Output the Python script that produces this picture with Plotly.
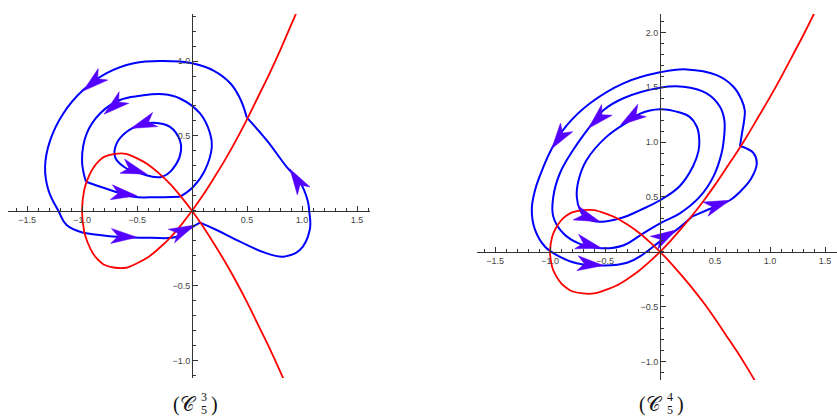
import math
import plotly.graph_objects as go

W, H = 837, 419

# ---------------- data ----------------
# red curve (identical in both panels)
red_x = [1.40, 1.30, 1.20, 1.10, 1.00, 0.90, 0.80, 0.70, 0.60, 0.50, 0.40, 0.30, 0.20, 0.10, 0.00,
         -0.10, -0.20, -0.30, -0.40, -0.50, -0.60, -0.70, -0.80, -0.85, -0.90, -0.95, -0.98, -1.00,
         -0.98, -0.95, -0.90, -0.85, -0.80, -0.70, -0.60, -0.50, -0.40, -0.30, -0.20, -0.10, 0.00,
         0.10, 0.20, 0.30, 0.40, 0.50, 0.60, 0.70, 0.80, 0.90]
red_y = [2.17, 1.97, 1.78, 1.59, 1.41, 1.24, 1.07, 0.91, 0.76, 0.61, 0.47, 0.34, 0.22, 0.105, 0.00,
         -0.095, -0.18, -0.25, -0.31, -0.35, -0.38, -0.38, -0.36, -0.33, -0.285, -0.21, -0.14, 0.00,
         0.14, 0.21, 0.285, 0.33, 0.36, 0.38, 0.38, 0.35, 0.31, 0.25, 0.18, 0.095, 0.00,
         -0.105, -0.22, -0.34, -0.47, -0.61, -0.76, -0.91, -1.07, -1.24]

# left panel (C_5^3) blue trajectories, split at the corners on the red curve
L_outer_a_x = [0.497, 0.44, 0.35, 0.20, 0.00, -0.26, -0.53, -0.78, -0.99, -1.17, -1.29, -1.336, -1.306, -1.215, -1.14, -0.99]
L_outer_a_y = [0.624, 0.745, 0.85, 0.935, 0.985, 1.00, 0.985, 0.918, 0.806, 0.65, 0.47, 0.294, 0.139, 0.00, -0.095, -0.146]
L_outer_b_x = [-0.99, -0.685, -0.38, -0.14, -0.018, 0.073]
L_outer_b_y = [-0.146, -0.173, -0.18, -0.173, -0.117, -0.079]
L_outer_c_x = [0.073, 0.224, 0.436, 0.68, 0.83, 0.98, 1.07, 1.065, 1.05, 0.98, 0.86, 0.68, 0.497]
L_outer_c_y = [-0.079, -0.128, -0.206, -0.284, -0.306, -0.262, -0.128, 0.00, 0.072, 0.194, 0.294, 0.47, 0.624]
L_mid_a_x = [-0.11, -0.38, -0.53, -0.745, -0.964]
L_mid_a_y = [0.094, 0.09, 0.094, 0.139, 0.194]
L_mid_b_x = [-0.964, -1.00, -0.957, -0.836, -0.655, -0.47, -0.26, -0.11, 0.073, 0.164, 0.18, 0.118, 0.012, -0.11]
L_mid_b_y = [0.194, 0.34, 0.517, 0.65, 0.74, 0.768, 0.778, 0.75, 0.65, 0.517, 0.428, 0.272, 0.161, 0.094]
L_in_x = [-0.27, -0.14, -0.10, -0.11, -0.20, -0.35, -0.47, -0.594, -0.685, -0.70, -0.62, -0.47, -0.27]
L_in_y = [0.228, 0.317, 0.405, 0.47, 0.56, 0.588, 0.573, 0.528, 0.45, 0.36, 0.294, 0.25, 0.228]

# right panel (C_5^4); outer trajectory split where it meets the red curve
R_outer_a_x = [0.727, 0.745, 0.765, 0.77, 0.742, 0.667, 0.515, 0.243, 0.00, -0.333, -0.636, -0.85, -0.985,
               -1.07, -1.136, -1.166, -1.136, -1.045, -0.91, -0.757, -0.515, -0.30, -0.15, 0.00, 0.15, 0.29]
R_outer_a_y = [0.964, 1.08, 1.20, 1.29, 1.384, 1.505, 1.61, 1.663, 1.636, 1.536, 1.354, 1.15, 0.94,
               0.75, 0.563, 0.381, 0.199, 0.046, -0.045, -0.105, -0.125, -0.10, -0.02, 0.095, 0.20, 0.32]
R_outer_b_x = [0.29, 0.45, 0.636, 0.73, 0.83, 0.88, 0.85, 0.79, 0.727]
R_outer_b_y = [0.32, 0.39, 0.47, 0.55, 0.67, 0.81, 0.90, 0.94, 0.964]
R_mid_x = [-0.97, -0.97, -0.88, -0.74, -0.53, -0.33, -0.18, 0.00, 0.18, 0.36, 0.485, 0.56, 0.585, 0.585,
           0.545, 0.424, 0.212, 0.00, -0.333, -0.515, -0.65, -0.79, -0.91, -0.97]
R_mid_y = [0.503, 0.32, 0.169, 0.077, 0.032, 0.06, 0.15, 0.26, 0.35, 0.50, 0.685, 0.90, 1.08, 1.20,
           1.323, 1.445, 1.505, 1.496, 1.40, 1.29, 1.126, 0.928, 0.716, 0.503]
R_in_x = [-0.757, -0.727, -0.667, -0.545, -0.36, -0.18, 0.00, 0.18, 0.30, 0.35, 0.357, 0.335, 0.27, 0.18,
          0.00, -0.18, -0.27, -0.485, -0.667, -0.74, -0.757]
R_in_y = [0.502, 0.381, 0.305, 0.274, 0.305, 0.38, 0.47, 0.60, 0.78, 0.92, 1.02, 1.14, 1.23, 1.27,
          1.30, 1.26, 1.20, 1.05, 0.837, 0.655, 0.502]

# arrowheads: tip position and screen direction (degrees)
L_arrow_x = [-0.99, -0.80, -0.557, -0.41, -0.50, -0.50, 0.027, 0.89]
L_arrow_y = [0.80, 0.645, 0.55, 0.245, 0.10, -0.177, -0.095, 0.28]
L_arrow_deg = [-140, -140, -160, -18, -8, -3, 25, 122]
R_arrow_x = [-0.985, -0.65, -0.36, -0.545, -0.53, -0.515, 0.15, 0.636]
R_arrow_y = [0.94, 1.126, 1.156, 0.274, 0.032, -0.125, 0.20, 0.47]
R_arrow_deg = [-125, -135, -146, -20, -15, -5, 30, 20]

# axes
x_ticks = [-1.5, -1.0, -0.5, 0.5, 1.0, 1.5]
x_ticktext = ["\u22121.5", "\u22121.0", "\u22120.5", "0.5", "1.0", "1.5"]
L_y_ticks = [-1.0, -0.5, 0.5, 1.0]
L_y_ticktext = ["\u22121.0", "\u22120.5", "0.5", "1.0"]
R_y_ticks = [-1.0, -0.5, 0.5, 1.0, 1.5, 2.0]
R_y_ticktext = ["\u22121.0", "\u22120.5", "0.5", "1.0", "1.5", "2.0"]

# ---------------- styling / layout ----------------
BLUE = "#0000ff"
RED = "#ff0000"
ARROW = "#5500ff"
AX = "#333333"

L_xdom = [8 / W, 370 / W]
L_ydom = [(H - 378) / H, (H - 14) / H]
L_xr = [-1.673, 1.618]
L_yr = [-1.116, 1.314]
R_xdom = [477 / W, 1.0]
R_ydom = [(H - 380) / H, (H - 14) / H]
R_xr = [-1.664, 1.609]
R_yr = [-1.169, 2.168]


def axis_pair(xdom, ydom, xr, yr, yt, ytt):
    xpos = ydom[0] + (0 - yr[0]) / (yr[1] - yr[0]) * (ydom[1] - ydom[0])
    ypos = xdom[0] + (0 - xr[0]) / (xr[1] - xr[0]) * (xdom[1] - xdom[0])
    common = dict(showline=True, linecolor=AX, linewidth=1, ticks="inside", ticklen=5,
                  tickwidth=1, tickcolor=AX, showgrid=False, zeroline=False, fixedrange=True,
                  tickfont=dict(family="Liberation Sans, Arial, sans-serif", size=9, color="#444"),
                  minor=dict(ticks="inside", ticklen=3, tickwidth=1, tickcolor=AX,
                             dtick=0.1, tick0=0, showgrid=False))
    xa = dict(domain=xdom, range=xr, anchor="free", position=xpos, tickvals=x_ticks,
              ticktext=x_ticktext, **common)
    ya = dict(domain=ydom, range=yr, anchor="free", position=ypos, tickvals=yt,
              ticktext=ytt, **common)
    return xa, ya


def scale(xdom, ydom, xr, yr):
    sx = (xdom[1] - xdom[0]) * W / (xr[1] - xr[0])
    sy = (ydom[1] - ydom[0]) * H / (yr[1] - yr[0])
    return sx, sy


def arrow_poly(x, y, deg, sx, sy, L=26, Wd=15, notch=19):
    a = math.radians(deg)
    ca, sa = math.cos(a), math.sin(a)
    pts = [(0, 0), (-L, Wd / 2), (-notch, 0), (-L, -Wd / 2), (0, 0)]
    xs, ys = [], []
    for u, v in pts:
        xs.append(x + (u * ca - v * sa) / sx)
        ys.append(y + (u * sa + v * ca) / sy)
    return xs, ys


fig = go.Figure()


def line(xs, ys, color, width, xa, ya, sm=1.2):
    fig.add_trace(go.Scatter(x=xs, y=ys, mode="lines",
                             line=dict(color=color, width=width, shape="spline", smoothing=sm),
                             xaxis=xa, yaxis=ya, hoverinfo="skip", showlegend=False))


# left panel
for xs, ys in [(L_outer_a_x, L_outer_a_y), (L_outer_b_x, L_outer_b_y), (L_outer_c_x, L_outer_c_y),
               (L_mid_a_x, L_mid_a_y), (L_mid_b_x, L_mid_b_y), (L_in_x, L_in_y)]:
    line(xs, ys, BLUE, 2, "x", "y")
line(red_x, red_y, RED, 1.8, "x", "y", 1.0)

# right panel
for xs, ys in [(R_outer_a_x, R_outer_a_y), (R_outer_b_x, R_outer_b_y), (R_mid_x, R_mid_y), (R_in_x, R_in_y)]:
    line(xs, ys, BLUE, 2, "x2", "y2")
line(red_x, red_y, RED, 1.8, "x2", "y2", 1.0)

# arrowheads
for (ax_x, ax_y, ax_d, dom, xa, ya) in [
    (L_arrow_x, L_arrow_y, L_arrow_deg, (L_xdom, L_ydom, L_xr, L_yr), "x", "y"),
    (R_arrow_x, R_arrow_y, R_arrow_deg, (R_xdom, R_ydom, R_xr, R_yr), "x2", "y2"),
]:
    sx, sy = scale(*dom)
    for x0, y0, d in zip(ax_x, ax_y, ax_d):
        px, py = arrow_poly(x0, y0, d, sx, sy)
        fig.add_trace(go.Scatter(x=px, y=py, mode="lines", fill="toself", fillcolor=ARROW,
                                 line=dict(color=ARROW, width=0.5), xaxis=xa, yaxis=ya,
                                 hoverinfo="skip", showlegend=False))

xa1, ya1 = axis_pair(L_xdom, L_ydom, L_xr, L_yr, L_y_ticks, L_y_ticktext)
xa2, ya2 = axis_pair(R_xdom, R_ydom, R_xr, R_yr, R_y_ticks, R_y_ticktext)

# captions
captions = [("3", 194), ("4", 660)]
ann = []
SERIF = "Liberation Serif, DejaVu Serif, serif"
for sup, cx in captions:
    ann.append(dict(text="(\U0001D49E", x=(cx + 5) / W, y=1 - 404 / H, xref="paper", yref="paper",
                    xanchor="right", yanchor="middle", showarrow=False,
                    font=dict(family=SERIF, size=20, color="#111")))
    ann.append(dict(text=sup, x=(cx + 5) / W, y=1 - 397 / H, xref="paper", yref="paper",
                    xanchor="left", yanchor="middle", showarrow=False,
                    font=dict(family=SERIF, size=12, color="#111")))
    ann.append(dict(text="5", x=(cx + 5) / W, y=1 - 410 / H, xref="paper", yref="paper",
                    xanchor="left", yanchor="middle", showarrow=False,
                    font=dict(family=SERIF, size=12, color="#111")))
    ann.append(dict(text=")", x=(cx + 15) / W, y=1 - 404 / H, xref="paper", yref="paper",
                    xanchor="left", yanchor="middle", showarrow=False,
                    font=dict(family=SERIF, size=20, color="#111")))

fig.update_layout(width=W, height=H, margin=dict(l=0, r=0, t=0, b=0),
                  paper_bgcolor="white", plot_bgcolor="white",
                  xaxis=xa1, yaxis=ya1, xaxis2=xa2, yaxis2=ya2,
                  annotations=ann, showlegend=False)

fig.write_html("out.html", config={"displayModeBar": False},
               post_script="document.body.style.margin='0px';")
